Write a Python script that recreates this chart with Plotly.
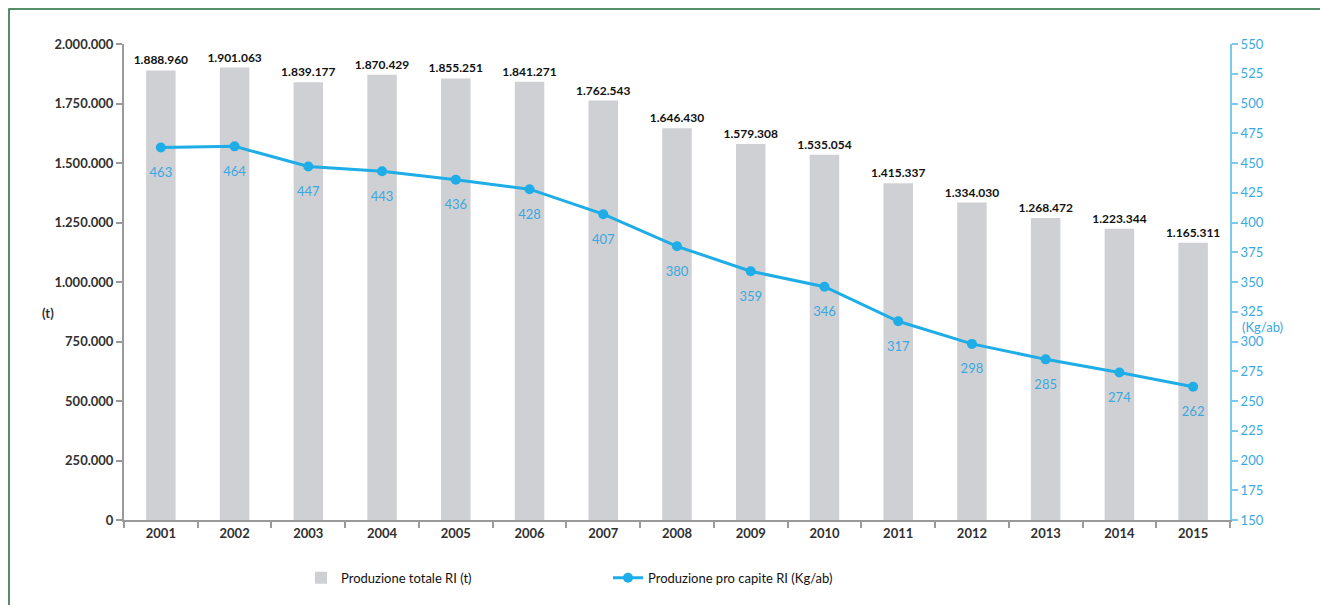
import plotly.graph_objects as go

years = ["2001", "2002", "2003", "2004", "2005", "2006", "2007", "2008",
         "2009", "2010", "2011", "2012", "2013", "2014", "2015"]
produzione_totale = [1888960, 1901063, 1839177, 1870429, 1855251, 1841271, 1762543,
                     1646430, 1579308, 1535054, 1415337, 1334030, 1268472, 1223344, 1165311]
produzione_pro_capite = [463, 464, 447, 443, 436, 428, 407, 380, 359, 346, 317, 298, 285, 274, 262]

BAR_GRAY = "#cfd0d3"
LINE_BLUE = "#1eade6"
LABEL_BLUE = "#3aa8e0"
AXIS_GRAY = "#9a9a9c"
AXIS_BLUE = "#7cc9f0"
TEXT_DARK = "#303030"
FONT = "Lato, Open Sans, sans-serif"

fig = go.Figure()

fig.add_trace(go.Bar(
    x=years, y=produzione_totale,
    name="Produzione totale RI (t)",
    marker=dict(color=BAR_GRAY, line=dict(width=0)),
    texttemplate="<b>%{y:,d}</b>",
    textposition="outside",
    constraintext="none",
    textangle=0,
    cliponaxis=False,
    textfont=dict(family=FONT, size=12, color="#111111"),
    legend="legend",
))

fig.add_trace(go.Scatter(
    x=years, y=produzione_pro_capite,
    name="Produzione pro capite RI (Kg/ab)",
    yaxis="y2",
    mode="lines+markers",
    line=dict(color=LINE_BLUE, width=3),
    marker=dict(color=LINE_BLUE, size=10),
    cliponaxis=False,
    legend="legend2",
))

# value labels under each point, pushed down by a large invisible marker
fig.add_trace(go.Scatter(
    x=years, y=produzione_pro_capite,
    yaxis="y2",
    mode="markers+text",
    marker=dict(size=30, color="rgba(0,0,0,0)"),
    text=[str(v) for v in produzione_pro_capite],
    textposition="bottom center",
    textfont=dict(family=FONT, size=13, color=LABEL_BLUE),
    cliponaxis=False,
    showlegend=False,
    hoverinfo="skip",
))

# inner halves of the tick marks, so each tick crosses its axis line
tick_in = dict(showgrid=False, zeroline=False, showline=False, showticklabels=False,
               ticks="inside", ticklen=6, tickwidth=2)

fig.update_layout(
    width=1320, height=605,
    margin=dict(l=124, r=90, t=44, b=85),
    paper_bgcolor="white", plot_bgcolor="white",
    separators=",.",
    font=dict(family=FONT, color=TEXT_DARK),
    bargap=0.6,
    xaxis=dict(
        range=[-0.5, 14.5],
        showgrid=False, showline=True, linecolor=AXIS_GRAY, linewidth=2,
        ticks="outside", tickson="boundaries", ticklen=6, tickcolor=AXIS_GRAY, tickwidth=2,
        tickfont=dict(family=FONT, size=13, color=TEXT_DARK),
        tickprefix="<b>", ticksuffix="</b>",
    ),
    xaxis2=dict(tick_in, overlaying="x", anchor="y", side="bottom", type="linear",
                range=[-0.5, 14.5], tick0=-0.5, dtick=1, tickcolor=AXIS_GRAY),
    yaxis=dict(
        range=[0, 2000000], dtick=250000, tickformat=",d",
        showgrid=False, zeroline=False, showline=True, linecolor=AXIS_GRAY, linewidth=2,
        ticks="outside", ticklen=6, tickcolor=AXIS_GRAY, tickwidth=2,
        tickfont=dict(family=FONT, size=13, color=TEXT_DARK),
        tickprefix="<b>", ticksuffix="</b>",
    ),
    yaxis3=dict(tick_in, overlaying="y", side="left", anchor="x",
                range=[0, 2000000], dtick=250000, tickcolor=AXIS_GRAY),
    yaxis2=dict(
        range=[150, 550], dtick=25, overlaying="y", side="right",
        showgrid=False, zeroline=False, showline=True, linecolor=AXIS_BLUE, linewidth=2,
        ticks="outside", ticklen=6, tickcolor=AXIS_BLUE, tickwidth=2,
        tickfont=dict(family=FONT, size=13, color=LABEL_BLUE),
    ),
    yaxis4=dict(tick_in, overlaying="y", side="right", anchor="x",
                range=[150, 550], dtick=25, tickcolor=AXIS_BLUE),
    legend=dict(
        orientation="h", x=(301 - 124) / 1106, y=-0.09, xanchor="left", yanchor="top",
        font=dict(family=FONT, size=13, color="#111111"), bgcolor="rgba(0,0,0,0)",
        itemwidth=30,
    ),
    legend2=dict(
        orientation="h", x=(608 - 124) / 1106, y=-0.09, xanchor="left", yanchor="top",
        font=dict(family=FONT, size=13, color="#111111"), bgcolor="rgba(0,0,0,0)",
        itemwidth=30,
    ),
    showlegend=True,
    annotations=[
        dict(text="<b>(t)</b>", xref="paper", yref="paper", x=(40 - 124) / 1106,
             y=(520 - 313) / 476, showarrow=False,
             font=dict(family=FONT, size=13, color=TEXT_DARK)),
        dict(text="(Kg/ab)", xref="paper", yref="paper", x=(1285 - 124) / 1106,
             y=(520 - 327) / 476, showarrow=False,
             font=dict(family=FONT, size=13, color=LABEL_BLUE)),
    ],
    shapes=[
        dict(type="rect", xref="paper", yref="paper",
             x0=(9 - 124) / 1106, x1=(1400 - 124) / 1106,
             y0=(520 - 640) / 476, y1=(520 - 9) / 476,
             line=dict(color="#1d6b3a", width=1.5), fillcolor="rgba(0,0,0,0)", layer="below"),
    ],
)

fig.write_html("out.html")
